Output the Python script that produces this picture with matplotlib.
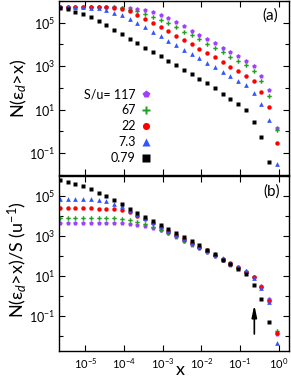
import matplotlib.pyplot as plt
from matplotlib.ticker import NullFormatter, NullLocator

plt.rcParams['font.family'] = ['Lato', 'DejaVu Sans']
plt.rcParams['mathtext.fontset'] = 'custom'
plt.rcParams['mathtext.rm'] = 'Lato'
plt.rcParams['mathtext.it'] = 'Lato:italic'

# dose threshold x (log spaced, 5 per decade)
x = [2.22e-6, 3.52e-6, 5.57e-6, 8.83e-6,
     1.40e-5, 2.22e-5, 3.52e-5, 5.57e-5, 8.83e-5,
     1.40e-4, 2.22e-4, 3.52e-4, 5.57e-4, 8.83e-4,
     1.40e-3, 2.22e-3, 3.52e-3, 5.57e-3, 8.83e-3,
     1.40e-2, 2.22e-2, 3.52e-2, 5.57e-2, 8.83e-2,
     0.140, 0.222, 0.352, 0.557, 0.883]

# S/u values and legend labels
s_values = [117, 67, 22, 7.3, 0.79]
s_labels = ['S/u= 117', '67', '22', '7.3', '0.79']

# N(eps_d > x)
n_117 = [5.4e5, 5.4e5, 5.4e5, 5.4e5, 5.4e5, 5.4e5, 5.3e5, 5.1e5, 5.0e5,
         4.8e5, 4.3e5, 3.8e5, 3.1e5, 2.3e5, 1.6e5, 1.08e5, 6.8e4, 4.3e4,
         2.8e4, 1.8e4, 1.14e4, 7.0e3, 4.3e3, 2.8e3, 1.8e3, 9.9e2, 3.6e2,
         82, 1.5]
n_67 = [5.4e5, 5.4e5, 5.4e5, 5.4e5, 5.4e5, 5.4e5, 5.3e5, 5.1e5, 4.6e5,
        4.0e5, 3.3e5, 2.6e5, 1.9e5, 1.4e5, 9.7e4, 6.4e4, 3.9e4, 2.6e4,
        1.7e4, 1.07e4, 7.0e3, 4.3e3, 2.6e3, 1.7e3, 1.14e3, 5.9e2, 2.0e2,
        41, 1.2]
n_22 = [5.4e5, 5.4e5, 5.4e5, 5.4e5, 5.4e5, 5.2e5, 5.1e5, 4.9e5, 4.4e5,
        3.4e5, 2.3e5, 1.48e5, 1.0e5, 6.4e4, 4.0e4, 2.5e4, 1.56e4, 1.03e4,
        6.5e3, 4.2e3, 2.6e3, 1.55e3, 9.6e2, 6.0e2, 3.5e2, 2.0e2, 65,
        13, 0.31]
n_7p3 = [5.4e5, 5.4e5, 5.4e5, 5.2e5, 5.0e5, 4.7e5, 3.9e5, 2.9e5, 2.2e5,
         1.48e5, 9.7e4, 6.1e4, 3.8e4, 2.4e4, 1.47e4, 9.0e3, 5.7e3, 3.7e3,
         2.3e3, 1.46e3, 9.2e2, 5.7e2, 3.4e2, 2.1e2, 1.3e2, 58, 18,
         3.5, 0.032]
n_0p79 = [5.0e5, 4.2e5, 3.2e5, 2.6e5, 1.74e5, 1.15e5, 7.5e4, 4.8e4, 3.1e4,
          1.87e4, 1.14e4, 7.0e3, 4.4e3, 2.8e3, 1.73e3, 1.14e3, 7.0e2, 4.4e2,
          2.7e2, 1.66e2, 95, 52, 31, 18, 9.8, 2.8, 0.54, 0.039]

series = [n_117, n_67, n_22, n_7p3, n_0p79]
colors = ['#a040ff', '#22a022', '#ff0000', '#3355ff', '#000000']
markers = ['p', 'P', 'o', '^', 's']
sizes = [3.5, 3.2, 3.2, 3.4, 3.2]

fig = plt.figure(figsize=(2.91, 3.85), dpi=100)
ax1 = fig.add_axes([0.2027, 0.5455, 0.790, 0.4520])
ax2 = fig.add_axes([0.2027, 0.0883, 0.790, 0.4545], sharex=ax1)

for n, s, lab, c, m, ms in zip(series, s_values, s_labels, colors, markers, sizes):
    xs = x[:len(n)]
    ax1.plot(xs, n, ls='none', marker=m, ms=ms, color=c, mec='none', label=lab)
    ax2.plot(xs, [v / s for v in n], ls='none', marker=m, ms=ms, color=c, mec='none')

for ax in (ax1, ax2):
    ax.set_xscale('log')
    ax.set_yscale('log')
    ax.set_yticks([1e-1, 1e1, 1e3, 1e5],
                  labels=[r'$\mathregular{10^{-1}}$', r'$\mathregular{10^{1}}$',
                          r'$\mathregular{10^{3}}$', r'$\mathregular{10^{5}}$'])
    ax.set_yticks([1e-2, 1e0, 1e2, 1e4, 1e6], minor=True)
    ax.yaxis.set_minor_formatter(NullFormatter())
    ax.tick_params(which='both', direction='in', top=True, right=True, width=0.8)
    ax.tick_params(which='major', length=4)
    ax.tick_params(which='minor', length=3)
    ax.tick_params(axis='y', labelsize=9, pad=3)
    for sp in ax.spines.values():
        sp.set_linewidth(1.0)

ax2.set_xticks([1e-5, 1e-4, 1e-3, 1e-2, 1e-1, 1e0],
               labels=[r'$\mathregular{10^{-5}}$', r'$\mathregular{10^{-4}}$',
                       r'$\mathregular{10^{-3}}$', r'$\mathregular{10^{-2}}$',
                       r'$\mathregular{10^{-1}}$', r'$\mathregular{10^{0}}$'])
ax2.xaxis.set_minor_locator(NullLocator())
ax2.tick_params(axis='x', labelsize=8, pad=4)
ax1.tick_params(axis='x', labelbottom=False)

ax1.set_xlim(10**-5.68, 10**0.26)
ax1.set_ylim(1e-2, 1e6)
ax2.set_ylim(10**-2.75, 1e6)

ax1.set_ylabel(r'N(ε$_d$>x)', fontsize=13)
ax2.set_ylabel(r'N(ε$_d$>x)/S (u$^{-1}$)', fontsize=13)
ax1.yaxis.set_label_coords(-0.13, 0.5)
ax2.yaxis.set_label_coords(-0.13, 0.52)
ax2.set_xlabel('x', fontsize=13)
ax2.xaxis.set_label_coords(0.526, -0.06)

ax1.text(0.917, 0.914, '(a)', transform=ax1.transAxes, ha='center', va='center', fontsize=11)
ax2.text(0.926, 0.909, '(b)', transform=ax2.transAxes, ha='center', va='center', fontsize=11)

ax1.legend(loc='center right', bbox_to_anchor=(0.393, 0.28), markerfirst=False,
           frameon=False, fontsize=9, markerscale=1.6, handlelength=0.6,
           handletextpad=0.5, labelspacing=0.32, borderpad=0, borderaxespad=0)

# arrow marking the break in panel (b)
ax2.annotate('', xy=(0.233, 10**-0.45), xytext=(0.233, 10**-1.9),
             arrowprops=dict(arrowstyle='-|>,head_length=0.7,head_width=0.15',
                             color='k', lw=1.2, shrinkA=0, shrinkB=0))

fig.savefig('out.png', dpi=100)
